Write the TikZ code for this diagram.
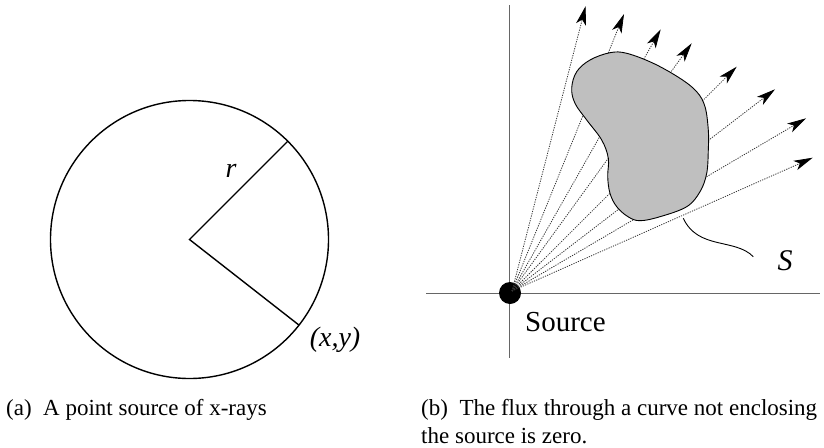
\documentclass[tikz,border=0pt]{standalone}
\usepackage{fontspec}
\setmainfont{Liberation Serif}
\usetikzlibrary{arrows.meta}
\begin{document}
\begin{tikzpicture}[x=1pt,y=-1pt,
  fig/.style={line width=1.4pt, black},
  axisline/.style={line width=1pt, black!60},
  ray/.style={dash pattern=on 1.2pt off 1.2pt, line width=0.8pt, black!80, -{Stealth[length=19pt,width=10pt,inset=5pt,black]}},
  lbl/.style={inner sep=0pt, font=\fontsize{28}{30}\selectfont},
  captext/.style={inner sep=0pt, anchor=base west, font=\fontsize{23}{25}\selectfont}]
\useasboundingbox (0,0) rectangle (824,447);
% ---- panel (a)
\coordinate (c) at (189.5,239.5);
\draw[fig] (c) circle[radius=139];
\coordinate (p1) at (287.8,141.2);
\coordinate (p2) at (299,325.1);
\draw[fig] (p1) -- (c) -- (p2);
\node[lbl, font=\fontsize{28}{30}\selectfont\itshape] (rl) at (231,171) {r};
\node[lbl, font=\fontsize{28}{30}\selectfont\itshape] (xy) at (335,340) {(x,y)};
% ---- panel (b)
\coordinate (ax1) at (509.5,5);
\coordinate (ax2) at (509.5,358);
\coordinate (ay1) at (426,293.5);
\coordinate (ay2) at (820,293.5);
\draw[axisline] (ax1) -- (ax2);
\draw[axisline] (ay1) -- (ay2);
\node[circle, fill=black, minimum size=22pt, inner sep=0pt] (src) at (510,293) {};
\coordinate (o) at (512,291);
\coordinate (t1) at (585.7,6);
\coordinate (t2) at (624,14);
\coordinate (t3) at (660.7,29.3);
\coordinate (t4) at (691.7,43.3);
\coordinate (t5) at (736.7,66.7);
\coordinate (t6) at (775,89.3);
\coordinate (t7) at (806,118.3);
\coordinate (t8) at (812.7,157.7);
\foreach \i in {1,...,8} \draw[ray] (o) -- (t\i);
\draw[line width=0.9pt, fill=black!25] plot[smooth cycle, tension=0.6] coordinates {
 (610,52.7) (626.7,53.3) (653.3,63.3) (680,78.3) (696.7,91.7) (705,106.7)
 (708.3,130) (708.3,150) (706.7,173.3) (700,191.7) (686.7,206.7) (660,216.7)
 (640,220.7) (628,216.7) (616.7,206.7) (610,193.3) (607.7,176.7) (608.3,158.3)
 (601.7,140) (586.7,120) (575,103.3) (571.7,88) (576.7,71.7) (590,60)};
\coordinate (l1) at (683.3,218.3);
\coordinate (l2) at (753.3,256.7);
\draw[line width=0.9pt] (l1) .. controls (698,250) and (735,238) .. (l2);
\node[lbl, font=\fontsize{30}{32}\selectfont\itshape] (S) at (785,261) {S};
\node[lbl, anchor=base west, font=\fontsize{29}{31}\selectfont] (srcl) at (525,331) {Source};
% ---- captions
\node[captext] (capa) at (6,415) {(a)\enspace A point source of x-rays};
\node[captext] (capb1) at (421,415) {(b)\enspace The flux through a curve not enclosing};
\node[captext] (capb2) at (421,443) {the source is zero.};
\end{tikzpicture}
\end{document}
